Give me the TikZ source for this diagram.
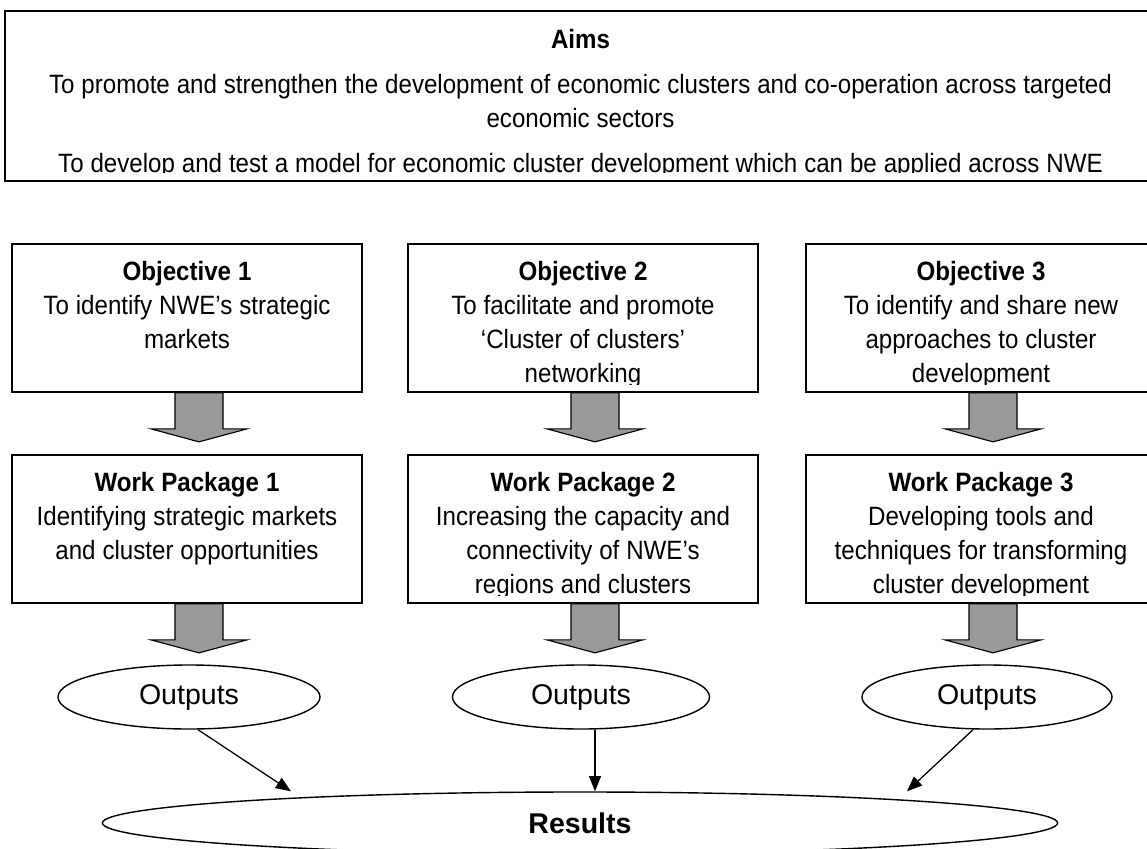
\documentclass[tikz,border=0pt]{standalone}
\usepackage{fontspec}
\setmainfont{Liberation Sans}
\newfontfamily\narrowfont[FakeStretch=0.91]{Liberation Sans}
\usepackage{tikz}
\usetikzlibrary{calc}
\usetikzlibrary{arrows.meta}
\usetikzlibrary{shapes.geometric}
\definecolor{arrowgray}{RGB}{153,153,153}

\begin{document}
\begin{tikzpicture}[x=0.025cm,y=-0.025cm,
                box node/.style={draw,line width=1.3pt,anchor=north,minimum width=8.75cm,minimum height=3.7cm,inner sep=0},
                text node/.style={anchor=north,inner sep=0,align=center,text width=8.5cm,font=\narrowfont\fontsize{18.85}{24.2}\selectfont,execute at begin node={\spaceskip=0.26em\relax}},
                out node/.style={draw,ellipse,line width=1pt,minimum height=1.6cm,inner sep=0,font=\fontsize{20.3}{24}\selectfont},
                fat arrow/.style={draw,line width=0.8pt,fill=arrowgray},
                thin arrow/.style={line width=0.9pt,-{Triangle[length=0.38cm,width=0.3cm]}},
                ]
                \useasboundingbox (0,0) rectangle (1147,849);

                \node[box node,minimum width=28.775cm,minimum height=4.25cm] (aims) at (580.5,10) {};
                \node[box node] (obj1) at (187,243) {};
                \node[box node] (obj2) at (583,243) {};
                \node[box node] (obj3) at (981,243) {};
                \node[box node] (wp1) at (187,454) {};
                \node[box node] (wp2) at (583,454) {};
                \node[box node] (wp3) at (981,454) {};

                \begin{scope}
                \clip (aims.north west) rectangle ($(aims.south east)+(0,-9)$)
                    \foreach \b in {obj1,obj2,obj3,wp1,wp2,wp3} {(\b.north west) rectangle ($(\b.south east)+(0,-8)$)};
                \node[text node,text width=28cm] (aimst) at ($(aims.north)+(0,19)$) {\textbf{Aims}\\[7.8pt]To promote and strengthen the development of economic clusters and co-operation across targeted\\economic sectors\\[7.8pt]To develop and test a model for economic cluster development which can be applied across NWE};
                \node[text node] (obj1t) at ($(obj1.north)+(0,18)$) {\textbf{Objective 1}\\To identify NWE’s strategic\\markets};
                \node[text node] (obj2t) at ($(obj2.north)+(0,18)$) {\textbf{Objective 2}\\To facilitate and promote\\‘Cluster of clusters’\\networking};
                \node[text node] (obj3t) at ($(obj3.north)+(0,18)$) {\textbf{Objective 3}\\To identify and share new\\approaches to cluster\\development};
                \node[text node] (wp1t) at ($(wp1.north)+(0,18)$) {\textbf{Work Package 1}\\Identifying strategic markets\\and cluster opportunities};
                \node[text node] (wp2t) at ($(wp2.north)+(0,18)$) {\textbf{Work Package 2}\\Increasing the capacity and\\connectivity of NWE’s\\regions and clusters};
                \node[text node] (wp3t) at ($(wp3.north)+(0,18)$) {\textbf{Work Package 3}\\Developing tools and\\techniques for transforming\\cluster development};
                \end{scope}

                \node[out node,minimum width=6.55cm] (out1) at (189,697) {Outputs};
                \node[out node,minimum width=6.425cm] (out2) at (581,697) {Outputs};
                \node[out node,minimum width=6.25cm] (out3) at (987,697) {Outputs};
                \node[out node,minimum width=23.875cm,minimum height=1.55cm,font=\bfseries\fontsize{20.3}{24}\selectfont] (res) at (580,823) {Results};

                \foreach \a in {obj1,obj2,obj3,wp1,wp2,wp3}
                    \draw[fat arrow] ($(\a.south)+(-12,0)$) -- ++(0,36) -- ++(-24,0) -- ++(48,13) -- ++(48,-13) -- ++(-24,0) -- ++(0,-36) -- cycle;

                \coordinate (r1) at ($(res.north)+(-289,0)$);
                \coordinate (r2) at ($(res.north)+(15,0)$);
                \coordinate (r3) at ($(res.north)+(327,0)$);
                \draw[thin arrow] ($(out1.south)+(9,0)$) -- (r1);
                \draw[thin arrow] ($(out2.south)+(14,0)$) -- (r2);
                \draw[thin arrow] ($(out3.south)+(-14,0)$) -- (r3);
            \end{tikzpicture}
\end{document}
